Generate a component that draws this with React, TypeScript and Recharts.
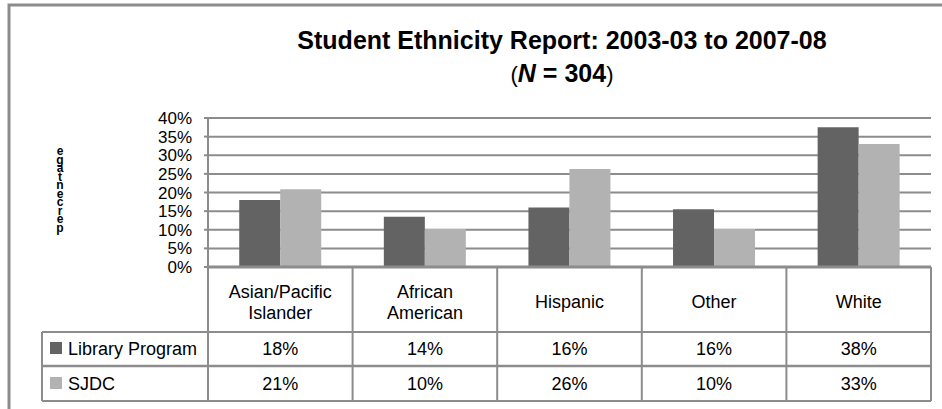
import React from "react";
import { BarChart, Bar, XAxis, YAxis, CartesianGrid } from "recharts";

const categories = ["Asian/Pacific Islander", "African American", "Hispanic", "Other", "White"];
const libraryProgram = [18, 13.5, 16, 15.5, 37.5];
const sjdc = [20.9, 10.2, 26.3, 10.2, 33];
const libraryLabels = ["18%", "14%", "16%", "16%", "38%"];
const sjdcLabels = ["21%", "10%", "26%", "10%", "33%"];
const yTicks = [0, 5, 10, 15, 20, 25, 30, 35, 40];
const seriesNames = ["Library Program", "SJDC"];
const titleLine1 = "Student Ethnicity Report: 2003-03 to 2007-08";
const yLabel = "percentage";

const data = categories.map((c, i) => ({
  category: c,
  library: libraryProgram[i],
  sjdc: sjdc[i],
}));

const W = 942;
const H = 409;
const PLOT_LEFT = 208;
const PLOT_RIGHT = 931;
const PLOT_TOP = 118;
const AXIS_Y = 267;
const ROW1_TOP = 332;
const ROW2_TOP = 366;
const TABLE_BOTTOM = 401;
const TABLE_LEFT = 42;
const LINE = "#8c8c8c";
const DARK = "#636363";
const LIGHT = "#b2b2b2";
const FONT = "'Liberation Sans', Arial, sans-serif";
const COL_W = (PLOT_RIGHT - PLOT_LEFT) / categories.length;
const TABLE_FS = 18;

function CategoryTick(props: any) {
  const { x, payload, index } = props;
  const lines = String(payload.value).split(" ");
  const left = x - COL_W / 2;
  const right = x + COL_W / 2;
  return (
    <g>
      <line x1={left} x2={left} y1={AXIS_Y} y2={TABLE_BOTTOM} stroke={LINE} strokeWidth={2} />
      {index === categories.length - 1 && (
        <line x1={right} x2={right} y1={AXIS_Y} y2={TABLE_BOTTOM} stroke={LINE} strokeWidth={2} />
      )}
      {lines.length === 1 ? (
        <text x={x} y={308} textAnchor="middle" fontSize={TABLE_FS} fontFamily={FONT} fill="#000">
          {lines[0]}
        </text>
      ) : (
        <text x={x} y={298} textAnchor="middle" fontSize={TABLE_FS} fontFamily={FONT} fill="#000">
          {lines.map((l, i) => (
            <tspan key={i} x={x} dy={i === 0 ? 0 : 21}>
              {l}
            </tspan>
          ))}
        </text>
      )}
      <text x={x} y={355} textAnchor="middle" fontSize={TABLE_FS} fontFamily={FONT} fill="#000">
        {libraryLabels[index]}
      </text>
      <text x={x} y={390} textAnchor="middle" fontSize={TABLE_FS} fontFamily={FONT} fill="#000">
        {sjdcLabels[index]}
      </text>
    </g>
  );
}

export default function App() {
  const stacked = yLabel.split("").reverse().join("");
  return (
    <div style={{ position: "absolute", left: 0, top: 0, width: W, height: H, background: "#fff" }}>
      <BarChart
        width={W}
        height={H}
        data={data}
        margin={{ top: PLOT_TOP, right: W - PLOT_RIGHT, left: PLOT_LEFT - 60, bottom: 0 }}
        barCategoryGap="21.6%"
        barGap={0}
      >
        <CartesianGrid vertical={false} stroke={LINE} strokeWidth={2} />
        <YAxis
          width={60}
          domain={[0, 40]}
          ticks={yTicks}
          interval={0}
          tickFormatter={(v: number) => `${v}%`}
          axisLine={{ stroke: LINE, strokeWidth: 2 }}
          tickLine={{ stroke: LINE, strokeWidth: 2 }}
          tickSize={4}
          tickMargin={12}
          tick={{ fontSize: 17, fontFamily: FONT, fill: "#000" }}
        />
        <XAxis
          dataKey="category"
          height={H - AXIS_Y}
          interval={0}
          tickLine={false}
          axisLine={{ stroke: LINE, strokeWidth: 3 }}
          tick={<CategoryTick />}
        />
        <Bar dataKey="library" name={seriesNames[0]} fill={DARK} isAnimationActive={false} />
        <Bar dataKey="sjdc" name={seriesNames[1]} fill={LIGHT} isAnimationActive={false} />
      </BarChart>
      <svg
        width={W}
        height={H}
        style={{ position: "absolute", left: 0, top: 0, pointerEvents: "none" }}
      >
        <rect x={9} y={5} width={1200} height={1200} fill="none" stroke={LINE} strokeWidth={3} />
        <text x={562} y={49} textAnchor="middle" fontSize={25} fontWeight="bold" fontFamily={FONT} fill="#000">
          {titleLine1}
        </text>
        <text x={562} y={82} textAnchor="middle" fontSize={25} fontWeight="bold" fontFamily={FONT} fill="#000">
          <tspan fontWeight="normal" fontSize={22}>(</tspan>
          <tspan fontStyle="italic">N</tspan>
          <tspan> = 304</tspan>
          <tspan fontWeight="normal" fontSize={22}>)</tspan>
        </text>
        <text
          x={60}
          y={144}
          fontSize={12}
          fontWeight="bold"
          fontFamily={FONT}
          fill="#000"
          style={{ writingMode: "vertical-rl", textOrientation: "upright", letterSpacing: "-5.5px" } as any}
        >
          {stacked}
        </text>
        <line x1={TABLE_LEFT} x2={PLOT_RIGHT} y1={ROW1_TOP} y2={ROW1_TOP} stroke={LINE} strokeWidth={2} />
        <line x1={TABLE_LEFT} x2={PLOT_RIGHT} y1={ROW2_TOP} y2={ROW2_TOP} stroke={LINE} strokeWidth={2.5} />
        <line x1={TABLE_LEFT} x2={PLOT_RIGHT} y1={TABLE_BOTTOM} y2={TABLE_BOTTOM} stroke={LINE} strokeWidth={2} />
        <line x1={TABLE_LEFT} x2={TABLE_LEFT} y1={ROW1_TOP} y2={TABLE_BOTTOM} stroke={LINE} strokeWidth={2} />
        <rect x={50} y={342} width={12} height={12} fill={DARK} />
        <text x={68} y={355} fontSize={TABLE_FS} fontFamily={FONT} fill="#000">{seriesNames[0]}</text>
        <rect x={50} y={377} width={12} height={12} fill={LIGHT} />
        <text x={68} y={390} fontSize={TABLE_FS} fontFamily={FONT} fill="#000">{seriesNames[1]}</text>
      </svg>
    </div>
  );
}
